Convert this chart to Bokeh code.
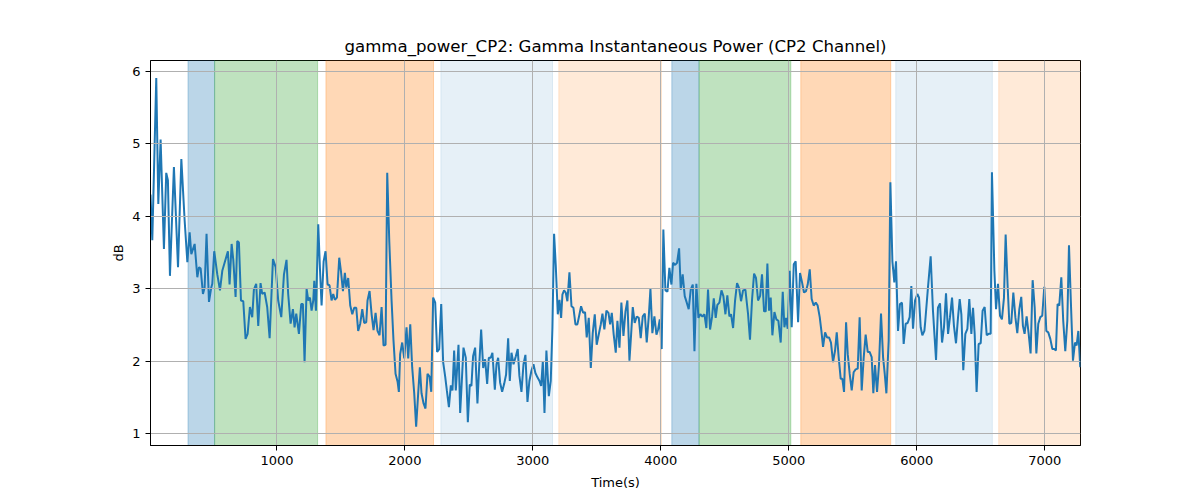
from bokeh.plotting import figure
from bokeh.models import Range1d, FixedTicker
from bokeh.embed import file_html
from bokeh.resources import INLINE

time_s = [12, 26, 57, 73, 91, 117, 135, 148, 164, 195, 227, 253, 279, 300, 318, 331, 357, 378, 391, 404,
          422, 435, 450, 469, 487, 495, 510, 534, 555, 573, 599, 617, 630, 646, 659, 677, 690, 703, 719, 737,
          755, 771, 789, 807, 820, 838, 854, 872, 885, 904, 924, 943, 969, 990, 1010, 1034, 1055, 1075, 1088, 1107,
          1125, 1138, 1151, 1172, 1190, 1203, 1216, 1232, 1245, 1258, 1271, 1284, 1292, 1305, 1323, 1336, 1349, 1365, 1380, 1396,
          1411, 1427, 1440, 1453, 1469, 1487, 1500, 1516, 1531, 1542, 1557, 1573, 1589, 1604, 1620, 1635, 1651, 1667, 1682, 1698,
          1708, 1724, 1740, 1755, 1771, 1786, 1802, 1818, 1833, 1849, 1862, 1878, 1896, 1911, 1927, 1943, 1953, 1963, 1979, 1995,
          2013, 2026, 2042, 2057, 2073, 2088, 2104, 2117, 2130, 2146, 2161, 2177, 2193, 2206, 2221, 2237, 2252, 2268, 2284, 2299,
          2315, 2328, 2344, 2359, 2372, 2385, 2398, 2419, 2432, 2445, 2458, 2476, 2492, 2507, 2520, 2533, 2549, 2567, 2580, 2596,
          2612, 2627, 2643, 2656, 2671, 2684, 2703, 2716, 2729, 2744, 2760, 2776, 2791, 2807, 2820, 2833, 2849, 2867, 2882, 2895,
          2911, 2927, 2942, 2958, 2973, 2989, 3005, 3020, 3036, 3052, 3065, 3078, 3091, 3106, 3125, 3140, 3153, 3166, 3179, 3195,
          3208, 3221, 3231, 3244, 3257, 3270, 3286, 3302, 3317, 3333, 3348, 3361, 3377, 3393, 3408, 3421, 3437, 3453, 3468, 3484,
          3499, 3515, 3531, 3544, 3559, 3575, 3591, 3604, 3617, 3632, 3648, 3661, 3677, 3692, 3708, 3724, 3739, 3755, 3768, 3781,
          3796, 3812, 3828, 3843, 3859, 3875, 3890, 3906, 3919, 3934, 3950, 3966, 3979, 3992, 4007, 4020, 4036, 4052, 4067, 4083,
          4096, 4112, 4127, 4143, 4156, 4171, 4187, 4203, 4218, 4234, 4250, 4263, 4278, 4294, 4309, 4325, 4341, 4356, 4369, 4385,
          4401, 4414, 4429, 4442, 4458, 4474, 4489, 4505, 4520, 4536, 4549, 4565, 4580, 4596, 4612, 4627, 4643, 4661, 4682, 4697,
          4713, 4729, 4744, 4760, 4776, 4791, 4807, 4820, 4833, 4846, 4859, 4872, 4888, 4903, 4919, 4937, 4953, 4966, 4979, 4992,
          5007, 5023, 5039, 5054, 5073, 5088, 5104, 5119, 5135, 5148, 5164, 5179, 5195, 5211, 5226, 5242, 5255, 5268, 5284, 5299,
          5315, 5330, 5346, 5362, 5375, 5390, 5406, 5419, 5432, 5448, 5461, 5476, 5492, 5507, 5523, 5539, 5554, 5570, 5586, 5601,
          5617, 5632, 5648, 5661, 5674, 5690, 5705, 5721, 5737, 5750, 5763, 5781, 5794, 5810, 5825, 5838, 5854, 5869, 5885, 5898,
          5914, 5929, 5945, 5958, 5971, 5987, 6005, 6018, 6031, 6044, 6060, 6067, 6088, 6109, 6127, 6151, 6166, 6182, 6198, 6213,
          6229, 6245, 6260, 6276, 6291, 6307, 6323, 6336, 6349, 6364, 6380, 6396, 6411, 6427, 6440, 6453, 6468, 6484, 6500, 6515,
          6531, 6547, 6562, 6578, 6588, 6607, 6620, 6635, 6651, 6666, 6682, 6695, 6711, 6724, 6739, 6755, 6771, 6786, 6802, 6817,
          6830, 6843, 6859, 6875, 6890, 6906, 6922, 6935, 6950, 6966, 6981, 6997, 7013, 7028, 7044, 7060, 7075, 7088, 7101, 7114,
          7130, 7145, 7161, 7177, 7190, 7205, 7221, 7237, 7250, 7263, 7278]

power_db = [4.30, 3.67, 5.91, 4.17, 5.06, 3.55, 4.60, 4.50, 3.18, 4.68, 3.30, 4.79, 3.94, 3.37, 3.78, 3.48, 3.62, 3.16, 3.30, 3.28,
            2.93, 3.02, 3.76, 2.82, 3.02, 3.07, 3.52, 3.20, 2.98, 3.25, 3.41, 3.52, 3.06, 3.62, 3.40, 2.89, 3.66, 3.64, 2.84, 2.83,
            2.31, 2.38, 2.75, 2.61, 2.99, 3.07, 2.49, 3.08, 2.93, 2.95, 2.75, 2.32, 3.41, 3.30, 2.84, 2.61, 3.20, 3.40, 2.93, 2.52,
            2.72, 2.47, 2.66, 2.38, 2.79, 2.79, 1.99, 3.00, 2.84, 2.88, 2.70, 2.84, 3.11, 2.70, 3.89, 3.29, 2.77, 3.38, 3.52, 3.06,
            3.05, 2.84, 2.93, 2.85, 2.88, 3.43, 3.25, 2.97, 3.22, 3.02, 3.15, 2.77, 2.65, 2.74, 2.74, 2.42, 2.52, 2.72, 2.53, 2.54,
            2.84, 2.97, 2.65, 2.43, 2.67, 2.42, 2.36, 2.75, 2.22, 2.23, 4.60, 3.66, 2.84, 2.29, 1.83, 1.72, 1.58, 2.10, 2.26, 2.04,
            2.47, 2.04, 2.51, 1.92, 1.56, 1.10, 1.56, 1.92, 1.56, 1.42, 1.35, 1.83, 1.79, 1.58, 2.88, 2.81, 2.13, 2.17, 2.79, 1.99,
            1.79, 1.60, 1.37, 1.67, 1.60, 2.15, 1.60, 2.23, 1.29, 1.73, 2.19, 2.05, 1.16, 1.68, 1.66, 2.07, 2.19, 1.42, 1.91, 2.44,
            1.91, 2.03, 1.69, 2.05, 2.05, 2.12, 1.61, 1.96, 2.05, 1.71, 1.58, 1.69, 1.82, 2.32, 1.73, 2.12, 1.96, 2.07, 2.17, 1.80,
            1.58, 1.96, 2.09, 1.44, 1.73, 1.87, 1.96, 1.84, 1.78, 1.73, 1.66, 2.00, 1.29, 2.15, 1.52, 1.73, 2.46, 3.76, 3.33, 2.65,
            2.85, 2.60, 2.92, 2.98, 2.95, 2.83, 3.23, 2.76, 2.74, 2.51, 2.51, 2.62, 2.76, 2.67, 2.68, 2.33, 2.60, 1.91, 2.39, 2.65,
            2.23, 2.37, 2.51, 2.66, 2.44, 2.70, 2.67, 2.51, 2.67, 2.37, 2.12, 2.56, 2.19, 2.81, 2.35, 2.69, 2.84, 2.01, 2.37, 2.75,
            2.53, 2.62, 2.60, 2.32, 2.62, 2.66, 2.26, 2.62, 3.00, 2.39, 2.62, 2.37, 2.44, 2.58, 2.17, 3.82, 2.98, 2.96, 3.29, 3.06,
            3.36, 3.33, 3.36, 3.56, 2.99, 3.20, 2.90, 2.81, 2.72, 2.99, 3.06, 2.14, 3.07, 2.60, 2.65, 2.62, 2.65, 2.46, 2.99, 2.44,
            2.62, 2.87, 2.60, 2.78, 2.81, 2.98, 2.90, 2.65, 2.91, 2.62, 2.65, 2.46, 2.83, 3.08, 3.01, 2.83, 2.98, 2.99, 2.65, 2.30,
            2.85, 3.21, 3.15, 2.84, 2.90, 3.20, 2.69, 2.69, 3.35, 2.70, 2.88, 2.36, 2.68, 2.58, 2.56, 2.26, 2.96, 2.47, 2.60, 2.45,
            3.25, 2.47, 3.34, 3.38, 2.54, 3.22, 3.09, 2.95, 2.97, 3.06, 3.27, 2.86, 2.77, 2.81, 2.77, 2.61, 2.42, 2.20, 2.40, 2.33,
            2.33, 2.26, 1.99, 2.15, 2.40, 2.06, 1.76, 1.76, 1.58, 2.54, 2.10, 1.83, 1.60, 1.85, 1.89, 1.90, 2.61, 1.60, 2.06, 2.37,
            2.13, 2.13, 2.06, 1.56, 1.95, 1.58, 1.95, 2.66, 2.06, 1.83, 1.56, 2.29, 4.47, 3.38, 3.09, 3.38, 2.42, 2.79, 2.81, 2.24,
            2.52, 2.53, 2.61, 3.04, 2.45, 2.84, 2.93, 2.88, 2.47, 2.36, 2.42, 2.56, 3.02, 3.45, 2.70, 2.02, 2.74, 2.80, 2.26, 2.47,
            2.94, 2.38, 2.61, 2.88, 2.49, 2.25, 2.61, 2.86, 2.65, 1.88, 2.38, 2.45, 2.86, 2.38, 2.74, 2.38, 1.58, 2.24, 2.25, 2.70,
            2.75, 2.36, 2.38, 2.38, 4.61, 3.25, 2.72, 3.07, 2.63, 2.58, 2.88, 3.75, 3.02, 2.52, 2.53, 2.95, 2.61, 2.39, 2.72, 2.89,
            2.49, 2.38, 2.62, 2.38, 2.11, 3.12, 2.74, 2.11, 2.52, 2.61, 2.63, 3.03, 2.42, 2.40, 2.31, 2.17, 2.17, 2.15, 2.79, 2.77,
            3.16, 2.56, 2.14, 2.56, 3.60, 2.81, 2.01, 2.26, 2.22, 2.42, 1.92]

span_start = [305, 513, 1383, 2281, 3203, 4086, 4299, 5094, 5836, 6641]
span_end = [513, 1318, 2224, 3154, 4005, 4299, 5016, 5797, 6591, 7300]
span_color = ["#1f77b4", "#2ca02c", "#ff7f0e", "#1f77b4", "#ff7f0e",
              "#1f77b4", "#2ca02c", "#ff7f0e", "#1f77b4", "#ff7f0e"]
span_alpha = [0.3, 0.3, 0.3, 0.11, 0.16, 0.3, 0.3, 0.3, 0.11, 0.16]

x_ticks = [1000, 2000, 3000, 4000, 5000, 6000, 7000]
y_ticks = [1, 2, 3, 4, 5, 6]

FONT = "DejaVu Sans"

p = figure(width=1192, height=492, output_backend="svg", toolbar_location=None,
           x_range=Range1d(12, 7280), y_range=Range1d(0.84, 6.15),
           title="gamma_power_CP2: Gamma Instantaneous Power (CP2 Channel)",
           min_border_left=150, min_border_right=112, min_border_top=60, min_border_bottom=47)

p.quad(left=span_start, right=span_end, bottom=-10, top=20,
       fill_color=span_color, fill_alpha=span_alpha,
       line_color=span_color, line_alpha=span_alpha, line_width=1)

p.line(time_s, power_db, line_color="#1f77b4", line_width=2)

p.title.align = "center"
p.title.text_font = FONT
p.title.text_font_size = "16.6px"
p.title.text_font_style = "normal"
p.title.text_color = "black"

p.xaxis.axis_label = "Time(s)"
p.yaxis.axis_label = "dB"
for ax in (p.xaxis, p.yaxis):
    ax.axis_label_text_font = FONT
    ax.axis_label_text_font_size = "13px"
    ax.axis_label_text_font_style = "normal"
    ax.axis_label_text_color = "black"
    ax.major_label_text_font = FONT
    ax.major_label_text_font_size = "13px"
    ax.major_label_text_color = "black"
    ax.axis_line_color = "black"
    ax.major_tick_line_color = "black"
    ax.major_tick_out = 5
    ax.major_tick_in = 0
    ax.minor_tick_line_color = None
p.xaxis.ticker = FixedTicker(ticks=x_ticks)
p.yaxis.ticker = FixedTicker(ticks=y_ticks)
p.xaxis.axis_label_standoff = 7
p.yaxis.axis_label_standoff = 3

p.xgrid.ticker = FixedTicker(ticks=x_ticks)
p.ygrid.ticker = FixedTicker(ticks=y_ticks)
p.grid.grid_line_color = "#b0b0b0"
p.grid.grid_line_width = 1
p.grid.level = "glyph"

p.outline_line_color = "black"
p.outline_line_width = 1
p.background_fill_color = "white"
p.border_fill_color = "white"

open("out.html", "w").write(file_html(p, INLINE))
